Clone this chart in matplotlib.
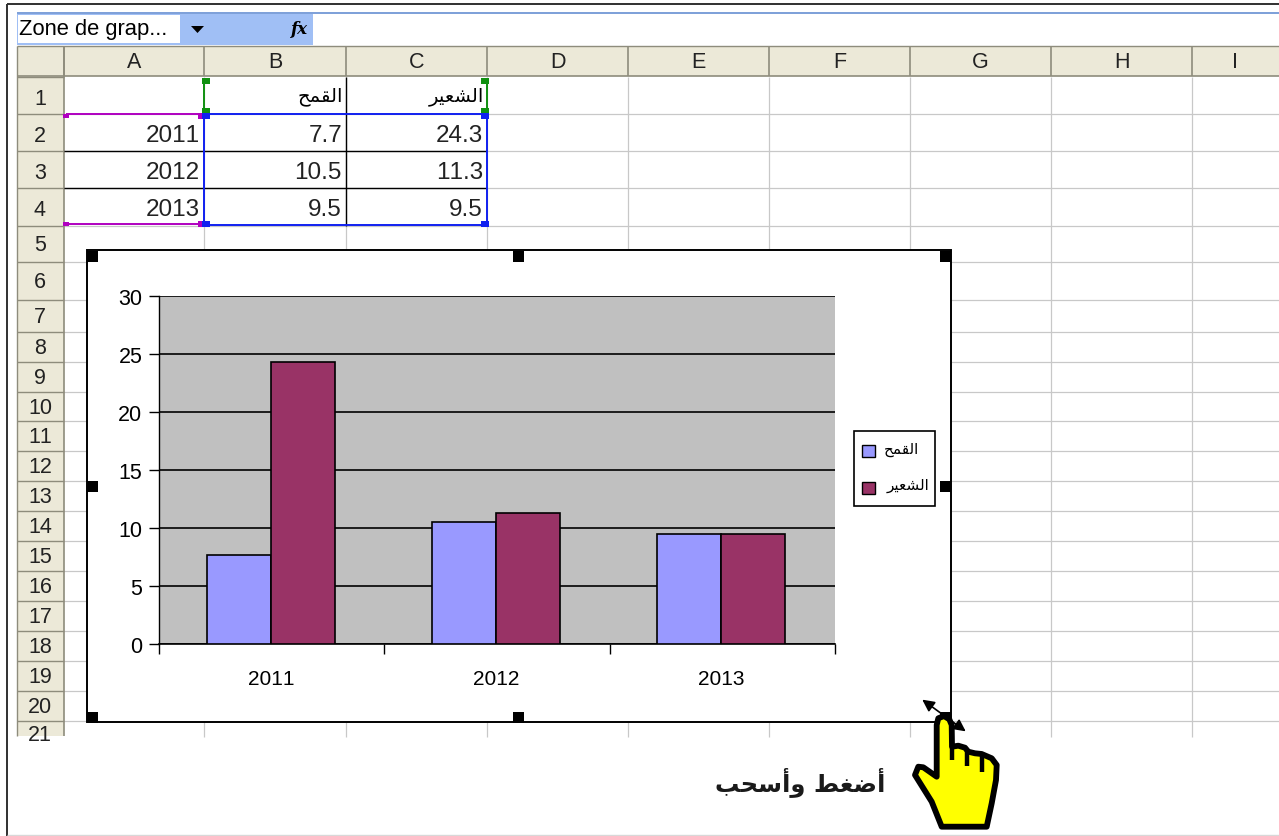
import matplotlib
matplotlib.use('Agg')
import matplotlib.pyplot as plt
from matplotlib.patches import Rectangle, Polygon

plt.rcParams['text.kerning_factor'] = 6

W, H = 1279, 837
ARIAL = 'Liberation Sans'
AR = 'DejaVu Sans'

# Arabic in presentation forms, left to right, matplotlib does no shaping
WHEAT = '\uFEA2\uFEE4\uFED8\uFEDF\uFE8D'
BARLEY = '\uFEAE\uFEF4\uFECC\uFEB8\uFEDF\uFE8D'
PRESS_DRAG = '\uFE90\uFEA4\uFEB3\uFE83\uFEED \uFEC2\uFED0\uFEBF\uFE83'

years = [2011, 2012, 2013]
wheat = [7.7, 10.5, 9.5]
barley = [24.3, 11.3, 9.5]
y_ticks = [0, 5, 10, 15, 20, 25, 30]
col_names = ['A', 'B', 'C', 'D', 'E', 'F', 'G', 'H', 'I']
col_edges = [64, 204, 346, 487, 628, 769, 910, 1051, 1192, 1279]
row_edges = [77, 114, 151, 188, 226, 262, 300, 332, 362, 392, 421, 451, 481,
             511, 541, 571, 601, 631, 661, 691, 721, 737]

fig = plt.figure(figsize=(W / 100, H / 100), dpi=100)
bg = fig.add_axes([0, 0, 1, 1])
bg.set_xlim(0, W)
bg.set_ylim(H - 1, -1)
bg.axis('off')


def box(x0, y0, x1, y1, fc='none', ec='none', lw=0.0, z=1):
    bg.add_patch(Rectangle((x0, y0), x1 - x0, y1 - y0, fc=fc, ec=ec, lw=lw, zorder=z))


def line(xs, ys, color='black', lw=1.0, z=2):
    bg.plot(xs, ys, color=color, lw=lw, zorder=z, solid_capstyle='butt')


# outer frame and formula bar
line([7, 7], [4, 837], '#303030', 1.4)
line([7, 1279], [4, 4], '#303030', 1.4)
line([7, 1279], [835, 835], '#D8D8D8', 1.0)
line([17, 1279], [13, 13], '#7C9FD8', 1.4)
box(17, 14, 313, 45, fc='#A0BFF5')
box(18, 15, 180, 43, fc='white', z=2)
bg.text(19, 29, 'Zone de grap...', family=ARIAL, fontsize=15.8, va='center', ha='left', zorder=3)
bg.add_patch(Polygon([[191, 26], [204, 26], [197.5, 33]], fc='black', zorder=3))
bg.text(299, 29, 'fx', family='DejaVu Serif', style='italic', weight='bold', fontsize=12,
        va='center', ha='center', zorder=3)

# sheet grid
for x in col_edges[1:-1]:
    line([x, x], [77, 737], '#C8C8C8', 0.9)
for y in row_edges[1:-1]:
    line([64, 1279], [y, y], '#C8C8C8', 0.9)

# headers
box(17, 46, 1279, 76, fc='#ECE9D8')
box(17, 46, 64, 736, fc='#ECE9D8')
line([17, 1279], [46, 46], '#8E8C7C', 1.0, 3)
line([17, 1279], [76, 76], '#8E8C7C', 1.2, 3)
line([17, 17], [46, 736], '#8E8C7C', 1.0, 3)
line([64, 64], [46, 736], '#8E8C7C', 1.2, 3)
for i, name in enumerate(col_names):
    line([col_edges[i], col_edges[i]], [46, 76], '#8E8C7C', 1.2, 3)
    bg.text((col_edges[i] + col_edges[i + 1]) / 2, 62, name, family=ARIAL, fontsize=15.5,
            ha='center', va='center', color='#222222', zorder=4)
clip_rect = Rectangle((17, 46), 47, 690, transform=bg.transData)
for i in range(len(row_edges) - 1):
    line([17, 64], [row_edges[i], row_edges[i]], '#8E8C7C', 1.0, 3)
    label_y = (row_edges[i] + row_edges[i + 1]) / 2 + 1
    if i < 4:
        label_y += 2
    if i == 20:
        label_y = 735
    t = bg.text(40, label_y, str(i + 1), family=ARIAL, fontsize=15.5, ha='center', va='center',
                color='#222222', zorder=4)
    t.set_clip_path(clip_rect)

# table cells, thin black borders
for y in row_edges[2:4]:
    line([64, 487], [y, y], 'black', 1.0, 3)
for x in col_edges[2:3]:
    line([x, x], [77, 226], 'black', 1.0, 3)
bg.text(343, 96, WHEAT, family=AR, fontsize=14, ha='right', va='center', zorder=4)
bg.text(484, 96, BARLEY, family=AR, fontsize=14, ha='right', va='center', zorder=4)
for i in range(len(years)):
    yc = (row_edges[i + 1] + row_edges[i + 2]) / 2 + 2.5
    bg.text(200, yc, str(years[i]), family=ARIAL, fontsize=17.5, ha='right', va='center', color='#222222', zorder=4)
    bg.text(342, yc, str(wheat[i]), family=ARIAL, fontsize=17.5, ha='right', va='center', color='#222222', zorder=4)
    bg.text(483, yc, str(barley[i]), family=ARIAL, fontsize=17.5, ha='right', va='center', color='#222222', zorder=4)

# range highlights
PURPLE, BLUE, GREEN = '#B000C0', '#1020F0', '#109010'
line([204, 204], [81, 114], GREEN, 1.4, 5)
line([487, 487], [81, 114], GREEN, 1.4, 5)
line([66, 204], [114, 114], PURPLE, 1.4, 5)
line([66, 204], [224, 224], PURPLE, 1.4, 5)
line([204, 487, 487, 204, 204], [114, 114, 225, 225, 114], BLUE, 1.4, 6)
for x, y, c, s in [(206, 81, GREEN, 4), (485, 81, GREEN, 4), (206, 111, GREEN, 4), (485, 111, GREEN, 4),
                   (66, 116, PURPLE, 3), (66, 224, PURPLE, 3), (202, 116, PURPLE, 4), (202, 224, PURPLE, 4),
                   (206, 116, BLUE, 4), (485, 116, BLUE, 4), (206, 224, BLUE, 4), (485, 224, BLUE, 4)]:
    box(x - s, y - s + 1, x + s, y + s - 1, fc=c, z=7)

# chart area with handles
box(87, 250, 951, 722, fc='white', ec='black', lw=1.4, z=8)
for hx, hy in [(92, 256), (518, 256), (945, 256), (92, 486), (945, 486), (92, 717), (518, 717), (945, 717)]:
    box(hx - 5.5, hy - 5.5, hx + 5.5, hy + 5.5, fc='black', z=9)

# the bar chart itself
ax = fig.add_axes([159 / W, 1 - 645 / H, (835 - 159) / W, (644 - 296) / H], zorder=5)
ax.set_facecolor('#C0C0C0')
bar_w = 0.284
nudge = -0.004
pos = [i + nudge for i in range(len(years))]
ax.bar([p - bar_w / 2 for p in pos], wheat, bar_w, color='#9999FF', edgecolor='black', linewidth=1.2, zorder=3)
ax.bar([p + bar_w / 2 for p in pos], barley, bar_w, color='#993366', edgecolor='black', linewidth=1.2, zorder=3)
ax.set_xlim(-0.5, 2.5)
ax.set_ylim(0, 30)
ax.set_yticks(y_ticks)
ax.set_xticks([-0.5, 0.5, 1.5, 2.5])
ax.set_xticklabels([])
ax.set_xticks(pos, minor=True)
ax.set_xticklabels([str(y) for y in years], minor=True, family=ARIAL, fontsize=15)
ax.tick_params(axis='x', which='minor', length=0, pad=18)
ax.tick_params(axis='x', which='major', length=7, width=1.0)
ax.tick_params(axis='y', length=7, width=1.0, pad=5)
for t in ax.get_yticklabels():
    t.set_family(ARIAL)
    t.set_fontsize(15.5)
ax.grid(axis='y', color='black', linewidth=1.2, zorder=1)
ax.set_axisbelow(True)
for side in ['top', 'right']:
    ax.spines[side].set_visible(False)
ax.spines['left'].set_linewidth(1.0)
ax.spines['bottom'].set_linewidth(1.2)

# legend drawn on top of the chart area
box(854, 431, 935, 506, fc='white', ec='black', lw=1.2, z=10)
box(862, 445, 875, 457, fc='#9999FF', ec='black', lw=1.0, z=11)
box(862, 482, 875, 494, fc='#993366', ec='black', lw=1.0, z=11)
bg.text(919, 449, WHEAT, family=AR, fontsize=11, ha='right', va='center', zorder=11)
bg.text(929, 485, BARLEY, family=AR, fontsize=11, ha='right', va='center', zorder=11)

# caption and the hand cursor
bg.text(800, 781, PRESS_DRAG, family=AR, fontsize=17.5, weight='bold', ha='center', va='center', color='#1A1A1A', zorder=11)
bg.annotate('', xy=(920, 698), xytext=(968, 733), zorder=12,
            arrowprops=dict(arrowstyle='<|-|>', color='black', lw=1.2, mutation_scale=18))
hand = [[936.7, 776.7], [936.7, 725], [938.3, 718.3], [944, 716], [949.3, 719.3], [951.7, 725], [952, 746.7],
        [958.3, 745.7], [965, 747.7], [968.3, 751.7], [975, 753.3], [981.7, 754], [991.7, 758.3], [996.7, 765],
        [996, 780], [991.7, 803.3], [986.7, 826.7], [941.7, 826.7], [931.7, 801.7], [915, 775], [918.3, 766.7],
        [923.3, 767.3]]
bg.add_patch(Polygon(hand, closed=True, fc='#FFFF00', ec='black', lw=4.2, joinstyle='round', zorder=13))
for x, y0, y1 in [(952, 745, 760), (967, 751, 766), (982, 754, 772)]:
    line([x, x], [y0, y1], 'black', 3.2, 14)

fig.savefig('out.png', dpi=100)
